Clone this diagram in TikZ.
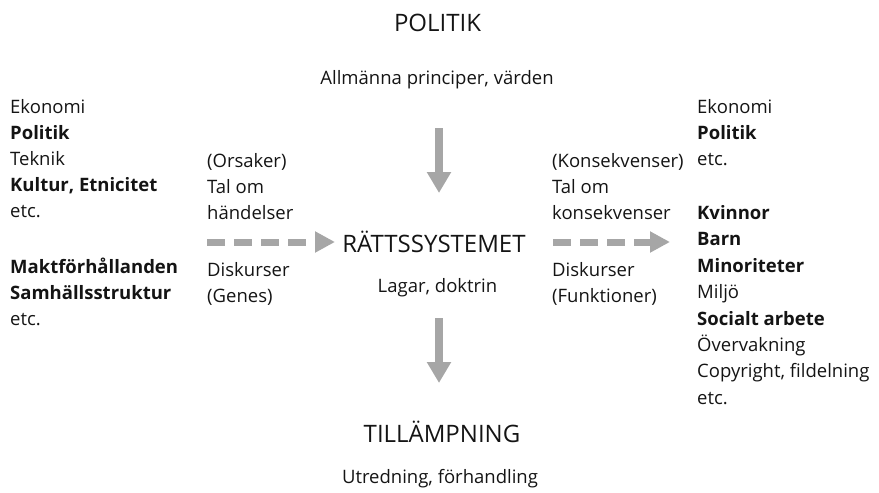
\documentclass[tikz,border=0pt]{standalone}
\usepackage{fontspec}
\setmainfont{Open Sans}
\usetikzlibrary{arrows.meta}
\definecolor{arrgray}{RGB}{166,166,166}
\definecolor{txt}{RGB}{20,20,20}
\tikzset{
  lbl/.style={anchor=base west, inner sep=0pt, text=txt, font=\fontsize{18.5}{22}\selectfont},
  lblc/.style={anchor=base, inner sep=0pt, text=txt, font=\fontsize{18.5}{22}\selectfont},
  big/.style={anchor=base, inner sep=0pt, text=txt, font=\fontsize{24}{28}\selectfont},
  downarrow/.style={draw=arrgray, line width=8pt, -{Triangle[length=21pt,width=23pt]}, color=arrgray},
  dasharrow/.style={draw=arrgray, line width=7pt, dash pattern=on 18pt off 9pt, -{Triangle[length=20pt,width=20pt]}, color=arrgray},
}
\begin{document}
\begin{tikzpicture}[x=1pt,y=1pt]
\useasboundingbox (0,0) rectangle (879,-493);
% center column
\node[big] (pol) at (437.5,-31) {POLITIK};
\node[lblc] (allm) at (437,-84) {Allmänna principer, värden};
\node[big] (rs) at (434,-252) {RÄTTSSYSTEMET};
\node[lblc] (lag) at (437.5,-292) {Lagar, doktrin};
\node[big] (till) at (442,-442) {TILLÄMPNING};
\node[lblc] (utr) at (440,-483) {Utredning, förhandling};
\coordinate (a1s) at (439,-128);
\coordinate (a1e) at (439,-193);
\coordinate (a2s) at (439,-318);
\coordinate (a2e) at (439,-383);
\draw[downarrow] (a1s) -- (a1e);
\draw[downarrow] (a2s) -- (a2e);
% left column
\node[lbl] (l1) at (10,-113) {Ekonomi};
\node[lbl] (l2) at (10,-139) {\bfseries Politik};
\node[lbl] (l3) at (10,-165) {Teknik};
\node[lbl] (l4) at (10,-191) {\bfseries Kultur, Etnicitet};
\node[lbl] (l5) at (10,-217) {etc.};
\node[lbl] (l6) at (10,-273) {\bfseries Maktförhållanden};
\node[lbl] (l7) at (10,-299) {\bfseries Samhällsstruktur};
\node[lbl] (l8) at (10,-325) {etc.};
% left middle
\node[lbl] (m1) at (207,-167) {(Orsaker)};
\node[lbl] (m2) at (207,-193) {Tal om};
\node[lbl] (m3) at (207,-219) {händelser};
\node[lbl] (m4) at (207,-276) {Diskurser};
\node[lbl] (m5) at (207,-302) {(Genes)};
\coordinate (d1s) at (207,-242);
\coordinate (d1e) at (335,-242);
\draw[dasharrow] (d1s) -- (d1e);
% right middle
\node[lbl] (n1) at (552,-167) {(Konsekvenser)};
\node[lbl] (n2) at (552,-193) {Tal om};
\node[lbl] (n3) at (552,-219) {konsekvenser};
\node[lbl] (n4) at (552,-276) {Diskurser};
\node[lbl] (n5) at (552,-302) {(Funktioner)};
\coordinate (d2s) at (553,-242);
\coordinate (d2e) at (670,-242);
\draw[dasharrow] (d2s) -- (d2e);
% right column
\node[lbl] (r1) at (697,-113) {Ekonomi};
\node[lbl] (r2) at (697,-139) {\bfseries Politik};
\node[lbl] (r3) at (697,-165) {etc.};
\node[lbl] (r4) at (697,-219) {\bfseries Kvinnor};
\node[lbl] (r5) at (697,-245) {\bfseries Barn};
\node[lbl] (r6) at (697,-272) {\bfseries Minoriteter};
\node[lbl] (r7) at (697,-298) {Miljö};
\node[lbl] (r8) at (697,-325) {\bfseries Socialt arbete};
\node[lbl] (r9) at (697,-351) {Övervakning};
\node[lbl] (r10) at (697,-377) {Copyright, fildelning};
\node[lbl] (r11) at (697,-404) {etc.};
\end{tikzpicture}
\end{document}
